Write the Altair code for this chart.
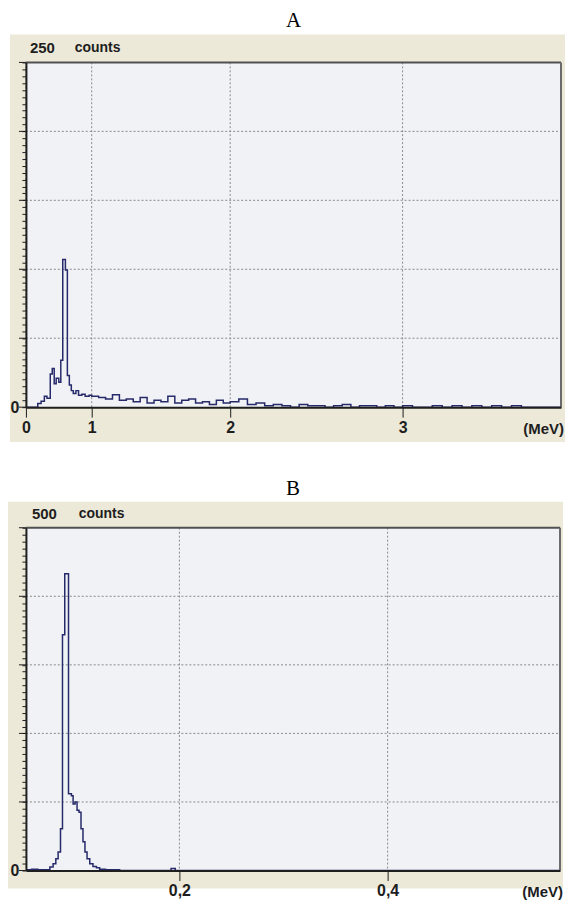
import altair as alt
import pandas as pd

# ---------------- data ----------------
# Panel A: energy bin starts (MeV) and counts
A_energy = [0.0, 0.18, 0.23, 0.28, 0.32, 0.37, 0.40, 0.43, 0.46, 0.50, 0.53, 0.56, 0.60,
            0.63, 0.66, 0.69, 0.72, 0.76, 0.80, 0.85, 0.90, 0.96,
            1.00, 1.05, 1.10, 1.15, 1.20, 1.25, 1.30, 1.35, 1.40, 1.45,
            1.50, 1.55, 1.60, 1.65, 1.70, 1.75, 1.80, 1.85, 1.90, 1.95,
            2.00, 2.05, 2.10, 2.15, 2.20, 2.25, 2.30, 2.35, 2.40, 2.45,
            2.50, 2.55, 2.60, 2.65, 2.70, 2.75, 2.80, 2.85, 2.90, 2.95,
            3.00, 3.05, 3.10, 3.15, 3.20, 3.25, 3.30, 3.35, 3.40, 3.45,
            3.50, 3.55, 3.60, 3.65, 3.70, 3.75, 3.80]
A_counts = [0, 2.7, 4.3, 7.9, 6.5, 24, 28, 17, 21, 18, 34, 107, 99.5,
            23, 16, 12, 10, 12, 8.7, 9.4, 8, 8.7,
            8, 7, 6, 9, 5, 6, 4, 7, 3, 5,
            4, 8, 3, 5, 6, 3, 4, 2, 5, 3,
            4, 6, 2, 3, 1, 2, 1, 0, 2, 1,
            1, 0, 1, 2, 0, 1, 1, 0, 1, 0,
            1, 0, 0, 1, 0, 1, 0, 1, 0, 1,
            0, 1, 0, 0, 0, 0, 0]

# Panel B
B_energy = [0.0526, 0.058, 0.064, 0.070, 0.0756, 0.0787, 0.0813, 0.0835, 0.0858, 0.0877,
            0.0899, 0.0935, 0.0963, 0.0979, 0.0998, 0.1017, 0.1036, 0.1055, 0.1074,
            0.1093, 0.1113, 0.1139, 0.117, 0.1203, 0.1234, 0.129, 0.1426, 0.192, 0.196, 0.5656]
B_counts = [1, 2, 1, 1, 5, 10, 17, 27, 61, 344,
            433, 112, 109, 97, 100, 88, 85, 61, 42,
            27, 17, 10, 6, 4, 2, 1, 0, 3, 0, 0]

A_xticks = [0, 1, 2, 3]
A_xdomain = [0, 1, 2, 3, 3.8]
A_ygrid = [50, 100, 150, 200]
A_ymax = 250
A_yminor = list(range(0, 251, 5))

B_xticks = [0.2, 0.4]
B_xdomain = [0.0526, 0.5656]
B_ygrid = [100, 200, 300, 400]
B_ymax = 500
B_yminor = list(range(0, 501, 10))

# ---------------- style ----------------
BEIGE = "#ECE9D8"
PLOT = "#F0F2F5"
NAVY = "#262A6A"
GRID = "#8A8A8A"
DARK = "#1E1E1E"
FONT = "Liberation Sans"
SERIF = "Liberation Serif"


def panel(letter, toplabel, energy, counts, xscale, xticks, xfmt, ymax, ygrid, yminor,
          W, H, bx1, bx2, by1, by2, title_y, num_x, counts_x):
    yscale = alt.Scale(domain=[0, ymax], nice=False, zero=True)
    xaxis = alt.Axis(
        values=xticks, labelExpr=xfmt, tickSize=10, tickColor=DARK, tickWidth=1,
        domainColor=DARK, domainWidth=2, labelFont=FONT, labelFontSize=16,
        labelFontWeight="bold", labelColor=DARK, labelPadding=2, labelFlush=False,
        labelOverlap=False, grid=False, title=None, zindex=1)
    yaxis = alt.Axis(
        values=yminor, labelExpr="datum.value == 0 ? '0' : ''", tickSize=4,
        tickColor=DARK, tickWidth=1, domainColor=DARK, domainWidth=2,
        labelFont=FONT, labelFontSize=16, labelFontWeight="bold", labelColor=DARK,
        labelPadding=3, labelOverlap=False, labelFlush=False, grid=False,
        title=None, zindex=1)
    one = alt.Data(values=[{"k": 1}])

    beige = alt.Chart(one).mark_rect(color=BEIGE).encode(
        x=alt.value(bx1), x2=alt.value(bx2), y=alt.value(by1), y2=alt.value(by2))
    plotbg = alt.Chart(one).mark_rect(color=PLOT).encode(
        x=alt.value(0), x2=alt.value(W), y=alt.value(0), y2=alt.value(H))
    line = alt.Chart(pd.DataFrame({"E": energy, "C": counts})).mark_line(
        interpolate="step-after", color=NAVY, strokeWidth=1.5, clip=True).encode(
        x=alt.X("E:Q", scale=xscale, axis=xaxis),
        y=alt.Y("C:Q", scale=yscale, axis=yaxis))
    vgrid = alt.Chart(pd.DataFrame({"E": xticks})).mark_rule(
        color=GRID, strokeDash=[2, 2], strokeWidth=1).encode(
        x=alt.X("E:Q", scale=xscale, axis=xaxis), y=alt.value(0), y2=alt.value(H))
    hgrid = alt.Chart(pd.DataFrame({"C": ygrid})).mark_rule(
        color=GRID, strokeDash=[2, 2], strokeWidth=1).encode(
        y=alt.Y("C:Q", scale=yscale, axis=yaxis), x=alt.value(0), x2=alt.value(W))
    major = alt.Chart(pd.DataFrame({"C": [0] + ygrid + [ymax]})).mark_rule(
        color=DARK, strokeWidth=1).encode(
        y=alt.Y("C:Q", scale=yscale, axis=yaxis), x=alt.value(-7), x2=alt.value(0))

    top = alt.Chart(one).mark_rule(color="#505050", strokeWidth=2).encode(
        x=alt.value(0), x2=alt.value(W), y=alt.value(0))
    right = alt.Chart(one).mark_rule(color="#6A6A6A", strokeWidth=2).encode(
        x=alt.value(W), y=alt.value(0), y2=alt.value(H))

    t_letter = alt.Chart(one).mark_text(
        text=letter, font=SERIF, fontSize=21, baseline="top", align="center",
        color="#000000").encode(x=alt.value(W / 2), y=alt.value(title_y))
    t_num = alt.Chart(one).mark_text(
        text=toplabel, font=FONT, fontSize=15, fontWeight="bold", baseline="middle",
        align="left", color=DARK).encode(x=alt.value(num_x), y=alt.value(-14))
    t_counts = alt.Chart(one).mark_text(
        text="counts", font=FONT, fontSize=14, fontWeight="bold", baseline="middle",
        align="left", color=DARK).encode(x=alt.value(counts_x), y=alt.value(-14))
    t_mev = alt.Chart(one).mark_text(
        text="(MeV)", font=FONT, fontSize=15, fontWeight="bold", baseline="middle",
        align="right", color=DARK).encode(x=alt.value(W + 3), y=alt.value(H + 22))

    return alt.layer(beige, plotbg, vgrid, hgrid, major, line, top, right,
                     t_letter, t_num, t_counts, t_mev).properties(width=W, height=H)


A_scale = alt.Scale(domain=A_xdomain, range=[0, 66, 205, 378, 537], nice=False, zero=False)
B_scale = alt.Scale(domain=B_xdomain, range=[0, 536], nice=False, zero=False)

chartA = panel("A", "250", A_energy, A_counts, A_scale, A_xticks,
               "format(datum.value, 'd')", A_ymax, A_ygrid, A_yminor,
               537, 346, -16, 541, -28, 381, -53, 4, 49)
chartB = panel("B", "500", B_energy, B_counts, B_scale, B_xticks,
               "replace(format(datum.value, '.1f'), '.', ',')", B_ymax, B_ygrid, B_yminor,
               536, 344, -18, 539, -26, 362, -50, 6, 53)

chart = alt.vconcat(chartA, chartB, spacing=36).properties(
    padding=0, background="white").configure_view(stroke=None)

chart.save("out.html", embed_options={"renderer": "svg", "actions": False})
